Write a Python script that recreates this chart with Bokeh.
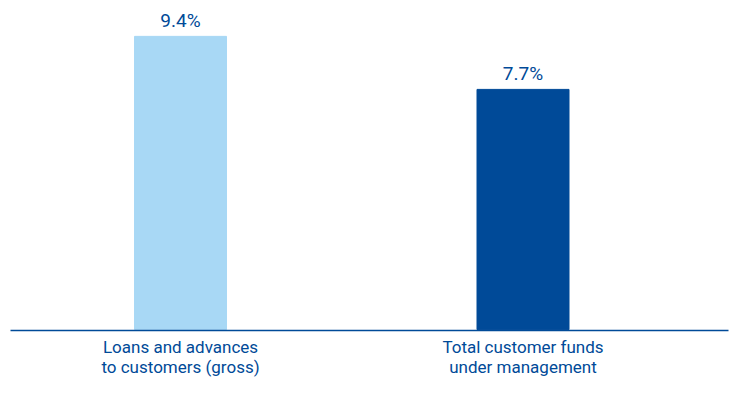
from bokeh.plotting import figure
from bokeh.models import Range1d, ColumnDataSource, FixedTicker
from bokeh.core.properties import value
from bokeh.embed import file_html
from bokeh.resources import INLINE

categories = ["Loans and advances\nto customers (gross)", "Total customer funds\nunder management"]
values = [9.4, 7.7]
labels = ["9.4%", "7.7%"]
colors = ["#a8d8f5", "#004a98"]

DARK = "#004a98"
FONT = "Roboto"

xs = list(range(len(values)))
src = ColumnDataSource(dict(x=xs, top=values, label=labels, color=colors))

# frame: page x 10..728, page y 8..330
p = figure(width=729, height=385, output_backend="svg", toolbar_location=None,
           x_range=Range1d(-0.4964, 1.600), y_range=Range1d(-0.03, 10.55),
           min_border_left=10, min_border_right=1, min_border_top=0, min_border_bottom=55)

p.vbar(x="x", top="top", width=0.2686, color="color", source=src)
p.text(x="x", y="top", text="label", source=src, text_align="center",
       text_baseline="alphabetic", y_offset=-16, text_color=DARK,
       text_font=value(FONT), text_font_size="19px")

p.yaxis.visible = False
p.grid.visible = False
p.outline_line_color = None
p.background_fill_color = "white"
p.border_fill_color = "white"

ax = p.xaxis[0]
ax.ticker = FixedTicker(ticks=xs)
ax.major_label_overrides = {i: c for i, c in enumerate(categories)}
ax.major_tick_line_color = None
ax.minor_tick_line_color = None
ax.axis_line_color = DARK
ax.axis_line_width = 1.5
ax.major_label_text_color = DARK
ax.major_label_text_font = FONT
ax.major_label_text_font_size = "17px"
ax.major_label_text_line_height = 1.0
ax.major_label_standoff = 0

open("out.html", "w").write(file_html(p, INLINE))
